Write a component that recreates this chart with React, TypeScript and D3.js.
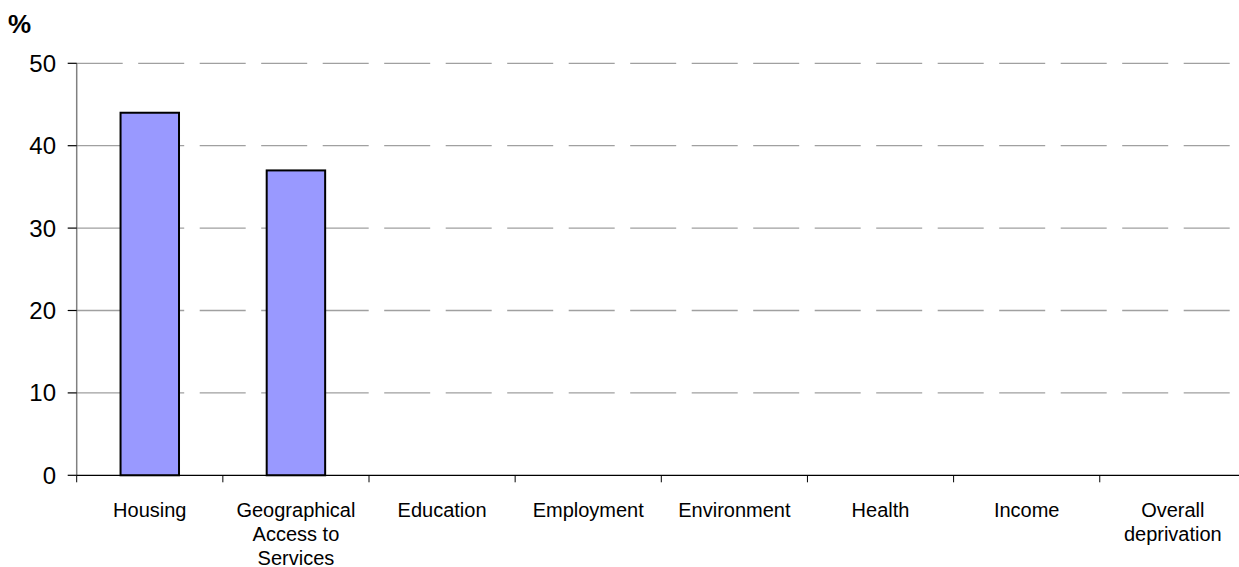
import React from "react";
import * as d3 from "d3";

const categories = [
  "Housing",
  "Geographical Access to Services",
  "Education",
  "Employment",
  "Environment",
  "Health",
  "Income",
  "Overall deprivation",
];
const values = [44, 37, 0, 0, 0, 0, 0, 0];
const yTicks = [0, 10, 20, 30, 40, 50];
const yUnit = "%";

const W = 1239;
const H = 567;
const LABEL_SIZE = 20;
const LABEL_FONT = `${LABEL_SIZE}px Arial, 'Liberation Sans', sans-serif`;

function wrap(text: string, maxW: number): string[] {
  const c = document.createElement("canvas").getContext("2d")!;
  c.font = LABEL_FONT;
  const words = text.split(" ");
  const lines: string[] = [];
  let cur = "";
  for (const w of words) {
    const t = cur ? cur + " " + w : w;
    if (cur && c.measureText(t).width > maxW) {
      lines.push(cur);
      cur = w;
    } else cur = t;
  }
  if (cur) lines.push(cur);
  return lines;
}

export default function App() {
  const x0 = 76.7;
  const x1 = 1245.9;
  const x = d3
    .scaleBand<string>()
    .domain(categories)
    .range([x0, x1])
    .paddingInner(0.6)
    .paddingOuter(0.3);
  const step = x.step();
  const y = d3.scaleLinear().domain([0, 50]).range([475.3, 63.3]);

  return (
    <svg
      width={W}
      height={H}
      style={{ position: "absolute", left: 0, top: 0, fontFamily: "Arial, 'Liberation Sans', sans-serif" }}
    >
      <rect width={W} height={H} fill="#fff" />
      {/* gridlines */}
      {yTicks
        .filter((t) => t > 0)
        .map((t) => (
          <line
            key={"g" + t}
            x1={x0}
            x2={x1}
            y1={y(t)}
            y2={y(t)}
            stroke="#a0a0a0"
            strokeWidth={1.3}
            strokeDasharray="46 15.5"
          />
        ))}
      {/* bars */}
      {categories.map((c, i) =>
        values[i] > 0 ? (
          <rect
            key={"b" + c}
            x={x(c)!}
            y={y(values[i])}
            width={x.bandwidth()}
            height={y(0) - y(values[i])}
            fill="#9999FF"
            stroke="#000"
            strokeWidth={2}
          />
        ) : null
      )}
      {/* y axis */}
      <line x1={x0} x2={x0} y1={y(50)} y2={y(0)} stroke="#808080" strokeWidth={1.5} />
      {yTicks.map((t) => (
        <g key={"yt" + t}>
          <line x1={x0 - 9} x2={x0} y1={y(t)} y2={y(t)} stroke="#000" strokeWidth={1.2} />
          <text
            x={56}
            y={y(t)}
            textAnchor="end"
            dominantBaseline="central"
            fontSize={24}
            fill="#000"
          >
            {t}
          </text>
        </g>
      ))}
      {/* x axis */}
      <line x1={x0} x2={x1} y1={y(0)} y2={y(0)} stroke="#000" strokeWidth={1.2} />
      {categories.map((c, i) => (
        <line
          key={"xt" + c}
          x1={x0 + i * step}
          x2={x0 + i * step}
          y1={y(0)}
          y2={y(0) + 7}
          stroke="#000"
          strokeWidth={1}
        />
      ))}
      {categories.map((c) => {
        const lines = wrap(c, 132);
        const cx = x(c)! + x.bandwidth() / 2;
        return (
          <text key={"xl" + c} textAnchor="middle" fontSize={LABEL_SIZE} fill="#000">
            {lines.map((l, j) => (
              <tspan key={j} x={cx} y={517 + j * 24}>
                {l}
              </tspan>
            ))}
          </text>
        );
      })}
      <text x={8} y={33} fontSize={26} fontWeight="bold" fill="#000">
        {yUnit}
      </text>
    </svg>
  );
}
